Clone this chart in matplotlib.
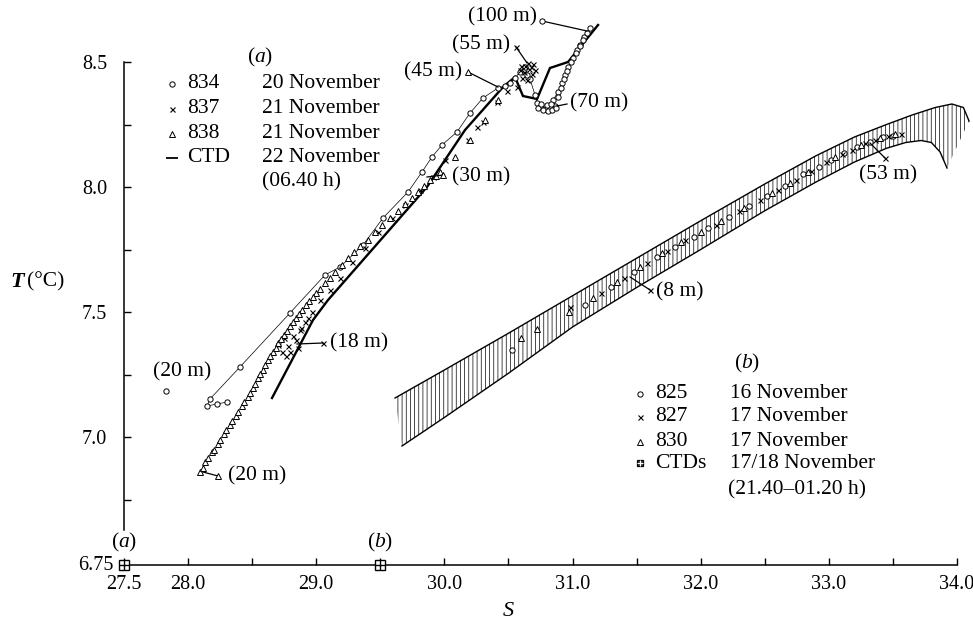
import numpy as np
import matplotlib.pyplot as plt
from matplotlib.patches import Polygon, Rectangle

plt.rcParams['font.family'] = ['Liberation Serif', 'DejaVu Serif']
plt.rcParams['mathtext.fontset'] = 'custom'
plt.rcParams['mathtext.rm'] = 'Liberation Serif'
plt.rcParams['mathtext.it'] = 'Liberation Serif:italic'
plt.rcParams['hatch.linewidth'] = 0.5

FS = 15.5

## (a) station 834, circles joined by a thin line (in depth order)
s834 = [28.304, 28.226, 28.148, 28.171, 28.405, 28.795, 29.068, 29.186, 29.365,
        29.521, 29.716, 29.825, 29.903, 29.981, 30.098, 30.200, 30.301, 30.418,
        30.473, 30.512, 30.551, 30.590, 30.629, 30.645, 30.668, 30.707, 30.723,
        30.746, 30.785, 30.824, 30.863, 30.848, 30.887, 30.918, 30.941, 30.965,
        31.004, 31.035, 31.058, 31.090, 31.113, 31.137]
t834 = [7.140, 7.132, 7.124, 7.152, 7.280, 7.496, 7.648, 7.680, 7.768,
        7.876, 7.980, 8.060, 8.120, 8.168, 8.220, 8.296, 8.356, 8.396,
        8.404, 8.416, 8.436, 8.460, 8.480, 8.448, 8.432, 8.368, 8.336,
        8.320, 8.312, 8.316, 8.324, 8.348, 8.380, 8.416, 8.448, 8.480,
        8.516, 8.548, 8.568, 8.600, 8.616, 8.636]
## further 834 readings (70 m cluster, upper branch)
s834_pts = [30.731, 30.770, 30.809, 30.840, 30.871, 30.801, 30.832, 30.754,
            30.887, 30.910, 30.934, 30.957, 30.988, 31.027, 31.058, 31.082]
t834_pts = [8.316, 8.308, 8.304, 8.308, 8.316, 8.328, 8.332, 8.332,
            8.360, 8.396, 8.432, 8.464, 8.500, 8.536, 8.564, 8.588]

## (a) station 837, crosses
s837 = [28.733, 28.780, 28.842, 28.873, 28.912, 28.967, 29.029, 29.107, 29.186,
        29.279, 29.381, 29.482, 29.591, 29.693, 29.810, 29.911, 30.005, 30.184,
        30.255, 30.301, 30.411, 30.489, 30.567, 30.590, 30.629, 30.660, 30.692,
        30.684, 28.702, 28.749, 28.795, 28.819, 28.858, 28.764, 28.881, 28.936,
        30.598, 30.621, 30.653, 30.676, 30.707, 30.606, 30.645]
t837 = [7.340, 7.364, 7.388, 7.428, 7.460, 7.500, 7.548, 7.588, 7.636,
        7.700, 7.756, 7.820, 7.876, 7.928, 7.988, 8.040, 8.108, 8.188,
        8.240, 8.260, 8.340, 8.384, 8.400, 8.468, 8.484, 8.472, 8.492,
        8.452, 7.368, 7.396, 7.340, 7.404, 7.356, 7.324, 7.436, 7.476,
        8.484, 8.460, 8.496, 8.480, 8.468, 8.436, 8.428]

## (a) station 838, triangles
s838 = [28.093, 28.132, 28.187, 28.234, 28.280, 28.327, 28.374, 28.421, 28.468,
        28.507, 28.546, 28.585, 28.624, 28.663, 28.702, 28.749, 28.795, 28.842,
        28.889, 28.944, 28.998, 29.068, 29.146, 29.248, 29.342, 29.459, 29.576,
        29.693, 29.794, 29.888, 29.966, 30.083, 30.200, 30.317, 30.418,
        28.116, 28.155, 28.202, 28.249, 28.296, 28.343, 28.390, 28.436, 28.483,
        28.522, 28.561, 28.600, 28.639, 28.686, 28.725, 28.772, 28.819, 28.866,
        28.920, 28.975, 29.029, 29.107, 29.201, 29.295, 29.404, 29.513, 29.638,
        29.747, 29.841, 29.935]
t838 = [6.860, 6.900, 6.940, 6.972, 7.012, 7.048, 7.084, 7.124, 7.160,
        7.196, 7.236, 7.268, 7.308, 7.340, 7.376, 7.408, 7.444, 7.476,
        7.508, 7.544, 7.576, 7.616, 7.660, 7.716, 7.764, 7.820, 7.876,
        7.932, 7.980, 8.028, 8.060, 8.120, 8.188, 8.268, 8.348,
        6.876, 6.916, 6.948, 6.988, 7.028, 7.064, 7.100, 7.140, 7.176,
        7.212, 7.252, 7.288, 7.324, 7.356, 7.392, 7.424, 7.460, 7.492,
        7.528, 7.560, 7.592, 7.636, 7.688, 7.740, 7.788, 7.848, 7.904,
        7.956, 8.004, 8.044]

## (a) CTD profile, 22 November
s_ctd = [28.655, 28.975, 29.092, 29.864, 30.161, 30.458, 30.551, 30.613, 30.723,
         30.824, 30.965, 31.199]
t_ctd = [7.156, 7.468, 7.548, 8.000, 8.228, 8.400, 8.440, 8.364, 8.352,
         8.476, 8.500, 8.648]

## (b) CTD envelope, 17/18 November
s_band_up = [29.615, 30.000, 30.500, 31.000, 31.500, 32.000, 32.500, 32.900,
             33.200, 33.450, 33.650, 33.830, 33.960, 34.050, 34.094]
t_band_up = [7.156, 7.268, 7.415, 7.565, 7.715, 7.865, 8.012, 8.125,
             8.200, 8.250, 8.288, 8.318, 8.332, 8.318, 8.264]
s_band_lo = [29.669, 30.000, 30.500, 31.000, 31.500, 32.000, 32.500, 32.900,
             33.200, 33.450, 33.600, 33.720, 33.800, 33.868, 33.922]
t_band_lo = [6.964, 7.078, 7.255, 7.440, 7.598, 7.750, 7.905, 8.020,
             8.100, 8.155, 8.178, 8.186, 8.178, 8.140, 8.076]

## (b) bottle stations
s825 = [30.53, 31.10, 31.30, 31.48, 31.66, 31.80, 31.95, 32.06, 32.22, 32.38,
        32.52, 32.66, 32.80, 32.92, 33.02, 33.12, 33.22, 33.32, 33.42, 33.50]
t825 = [7.350, 7.530, 7.600, 7.660, 7.720, 7.760, 7.800, 7.835, 7.880, 7.925,
        7.965, 8.005, 8.050, 8.080, 8.110, 8.135, 8.160, 8.180, 8.200, 8.205]
s827 = [30.98, 31.22, 31.40, 31.58, 31.74, 31.88, 32.12, 32.30, 32.46, 32.60,
        32.74, 32.86, 32.98, 33.10, 33.18, 33.28, 33.36, 33.46, 33.56]
t827 = [7.520, 7.575, 7.635, 7.695, 7.745, 7.790, 7.850, 7.905, 7.950, 7.990,
        8.030, 8.065, 8.100, 8.130, 8.150, 8.175, 8.190, 8.205, 8.210]
s830 = [30.60, 30.72, 30.97, 31.16, 31.35, 31.53, 31.70, 31.85, 32.00, 32.16,
        32.34, 32.56, 32.70, 32.84, 33.05, 33.25, 33.40, 33.52]
t830 = [7.396, 7.432, 7.500, 7.555, 7.620, 7.680, 7.735, 7.780, 7.820, 7.865,
        7.915, 7.975, 8.015, 8.060, 8.120, 8.170, 8.195, 8.210]

## depth labels: text, marker, marker pos, leader end, text pos, alignment
depth_notes = [
    ('(20 m)', '^', (28.234, 6.844), (28.116, 6.860), (28.310, 6.844), 'left'),
    ('(18 m)', 'x', (29.053, 7.376), (28.850, 7.372), (29.107, 7.376), 'left'),
    ('(30 m)', '^', (29.989, 8.048), (29.864, 8.040), (30.060, 8.040), 'left'),
    ('(45 m)', '^', (30.184, 8.460), (30.418, 8.400), (30.138, 8.460), 'right'),
    ('(55 m)', 'x', (30.559, 8.560), (30.645, 8.496), (30.512, 8.568), 'right'),
    ('(100 m)', 'o', (30.762, 8.664), (31.113, 8.624), (30.723, 8.680), 'right'),
    ('(70 m)', None, (30.879, 8.324), (30.957, 8.332), (30.980, 8.336), 'left'),
    ('(8 m)', 'x', (31.605, 7.588), (31.449, 7.640), (31.651, 7.580), 'left'),
    ('(53 m)', 'x', (33.438, 8.116), (33.321, 8.176), (33.460, 8.048), 'center'),
]

legend_a = [('o', '834', '20 November'), ('x', '837', '21 November'),
            ('^', '838', '21 November'), ('_', 'CTD', '22 November')]
legend_b = [('o', '825', '16 November'), ('x', '827', '17 November'),
            ('^', '830', '17 November'), ('box', 'CTDs', '17/18 November')]

mk = {'o': dict(ms=3.8, mfc='white', mec='black', mew=0.7),
      'x': dict(ms=3.6, mec='black', mew=0.8),
      '^': dict(ms=3.8, mfc='white', mec='black', mew=0.7),
      '_': dict(ms=9, mec='black', mew=1.3)}

fig = plt.figure(figsize=(9.73, 6.21), dpi=100)
ax = fig.add_axes([124 / 973, 56 / 621, 833 / 973, 565 / 621])
ax.set_xlim(27.5, 34.0)
ax.set_ylim(6.488, 8.748)

## envelope (b)
poly = np.column_stack([s_band_up + s_band_lo[::-1], t_band_up + t_band_lo[::-1]])
ax.add_patch(Polygon(poly, closed=True, facecolor='none', edgecolor='black',
                     hatch='||||', linewidth=0, clip_on=False))
ax.plot(s_band_up, t_band_up, color='black', lw=1.0, clip_on=False)
ax.plot(s_band_lo, t_band_lo, color='black', lw=1.0, clip_on=False)

## (a) profiles
ax.plot(s_ctd, t_ctd, color='black', lw=1.7, solid_joinstyle='miter')
ax.plot(s834, t834, color='black', lw=0.5, marker='o', ls='-', **mk['o'])
ax.plot(s834_pts, t834_pts, ls='none', marker='o', **mk['o'])
ax.plot(s837, t837, ls='none', marker='x', **mk['x'])
ax.plot(s838, t838, ls='none', marker='^', **mk['^'])

## (b) stations
ax.plot(s825, t825, ls='none', marker='o', **mk['o'])
ax.plot(s827, t827, ls='none', marker='x', **mk['x'])
ax.plot(s830, t830, ls='none', marker='^', **mk['^'])

## depth annotations
for text, m, (xm, ym), (xe, ye), (xt, yt), ha in depth_notes:
    ax.plot([xm, xe], [ym, ye], color='black', lw=0.9)
    if m is not None:
        ax.plot([xm], [ym], ls='none', marker=m, **mk[m])
    ax.text(xt, yt, text, ha=ha, va='center', fontsize=FS)

## isolated 20 m point of station 834
ax.plot([27.828], [7.184], ls='none', marker='o', **mk['o'])
ax.text(27.953, 7.26, '(20 m)', ha='center', va='center', fontsize=FS)

## legend (a)
ax.text(28.561, 8.52, r'($a$)', ha='center', va='center', fontsize=FS)
rows_a = [8.412, 8.312, 8.212, 8.116]
for (m, sta, day), ty in zip(legend_a, rows_a):
    ax.plot([27.875], [ty], ls='none', marker=m, **mk[m])
    ax.text(27.99, ty, sta, ha='left', va='center', fontsize=FS)
    ax.text(28.577, ty, day, ha='left', va='center', fontsize=FS)
ax.text(28.577, 8.02, '(06.40 h)', ha='left', va='center', fontsize=FS)

## legend (b)
ax.text(32.36, 7.296, r'($b$)', ha='center', va='center', fontsize=FS)
rows_b = [7.172, 7.080, 6.980, 6.896]
for (m, sta, day), ty in zip(legend_b, rows_b):
    if m == 'box':
        ax.add_patch(Rectangle((31.527 - 0.026, ty - 0.013), 0.052, 0.026,
                               facecolor='#444444', edgecolor='black', lw=0.9))
        ax.plot([31.527], [ty], ls='none', marker='+', ms=5, mec='white', mew=0.8)
    else:
        ax.plot([31.527], [ty], ls='none', marker=m, **mk[m])
    ax.text(31.644, ty, sta, ha='left', va='center', fontsize=FS)
    ax.text(32.229, ty, day, ha='left', va='center', fontsize=FS)
ax.text(32.214, 6.788, '(21.40\u201301.20 h)', ha='left', va='center', fontsize=FS)

## accuracy boxes on the S axis
for sx, lab in [(27.5, r'($a$)'), (29.5, r'($b$)')]:
    ax.plot([sx], [6.488], ls='none', marker='s', ms=7, mfc='white',
            mec='black', mew=1.0, clip_on=False, zorder=5)
    ax.plot([sx], [6.488], ls='none', marker='+', ms=7, mec='black',
            mew=1.0, clip_on=False, zorder=6)
    ax.text(sx, 6.58, lab, ha='center', va='center', fontsize=FS)

## axes
for side in ['top', 'right']:
    ax.spines[side].set_visible(False)
ax.spines['left'].set_bounds(6.628, 8.5)
ax.spines['bottom'].set_bounds(27.5, 34.0)
ax.spines['left'].set_linewidth(1.1)
ax.spines['bottom'].set_linewidth(1.1)

ax.set_xticks([27.5, 28, 29, 30, 31, 32, 33, 34])
ax.set_xticklabels(['27.5', '28.0', '29.0', '30.0', '31.0', '32.0', '33.0', '34.0'])
ax.set_xticks(np.arange(28.5, 34.0, 1.0), minor=True)
ax.set_yticks([7.0, 7.5, 8.0, 8.5])
ax.set_yticklabels(['7.0', '7.5', '8.0', '8.5'])
ax.set_yticks([6.75, 7.25, 7.75, 8.25], minor=True)
ax.tick_params(which='both', direction='in', length=5, width=1.0, labelsize=14.5)
ax.tick_params(axis='y', which='major', pad=12)
ax.tick_params(axis='x', which='major', pad=7)
ax.text(-0.013, 0.0, '6.75', transform=ax.transAxes, ha='right', va='center',
        fontsize=14.5)

fig.text(10 / 973, 1 - 282 / 621, 'T', ha='left', va='center', fontsize=16,
         style='italic', weight='bold')
fig.text(27 / 973, 1 - 282 / 621, '(\u00b0C)', ha='left', va='center',
         fontsize=15.5)
fig.text(508 / 973, 1 - 612 / 621, 'S', ha='center', va='center', fontsize=16,
         style='italic')

fig.savefig('out.png', dpi=100)
